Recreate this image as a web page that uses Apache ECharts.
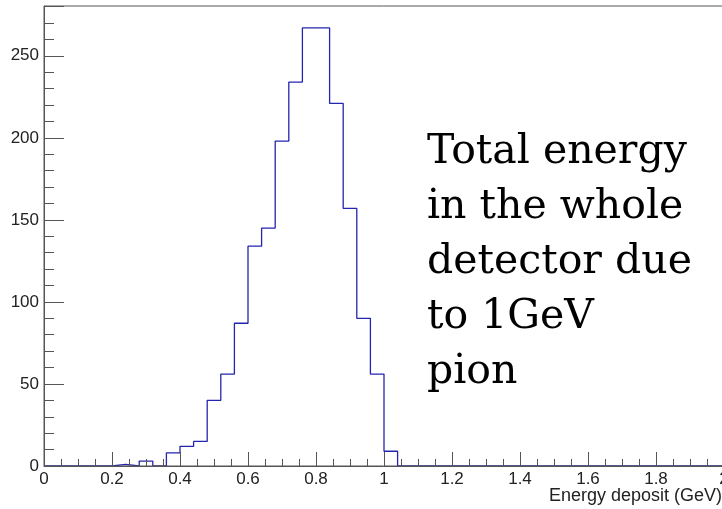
<!DOCTYPE html>
<html>
<head>
<meta charset="utf-8">
<script src="https://cdn.jsdelivr.net/npm/echarts@6/dist/echarts.min.js"></script>
<style>html,body{margin:0;padding:0;background:#fff;}#c{width:722px;height:509px;}</style>
</head>
<body>
<div id="c"></div>
<script>
// Histogram definition: 50 bins of width 0.04 from 0 to 2 GeV
const binStart = 0;
const binWidth = 0.04;
const counts = [
  0, 0, 0, 0, 0,          // 0.00 - 0.20
  1, 0, 3, 0, 8,          // 0.20 - 0.40
  12, 15, 40, 56, 87,     // 0.40 - 0.60
  134, 145, 198, 234, 267,// 0.60 - 0.80
  267, 221, 157, 90, 56,  // 0.80 - 1.00
  9, 0, 0, 0, 0,          // 1.00 - 1.20
  0, 0, 0, 0, 0,
  0, 0, 0, 0, 0,
  0, 0, 0, 0, 0,
  0, 0, 0, 0, 0
];
const xTicks = [0, 0.2, 0.4, 0.6, 0.8, 1, 1.2, 1.4, 1.6, 1.8, 2];
const yTicks = [0, 50, 100, 150, 200, 250];
const xTitle = 'Energy deposit (GeV)';
const noteLines = ['Total energy', 'in the whole', 'detector due', 'to 1GeV', 'pion'];

const pts = counts.map((v, i) => [+(binStart + i * binWidth).toFixed(4), v]);
pts.push([+(binStart + counts.length * binWidth).toFixed(4), counts[counts.length - 1]]);
const yMax = Math.max(...counts) * 1.05;

const chart = echarts.init(document.getElementById('c'), null, {renderer: 'canvas'});
const axisCol = '#555';
chart.setOption({
  animation: false,
  grid: {left: 44, top: 6, width: 680, height: 460, show: true, borderColor: axisCol, borderWidth: 1,
    containLabel: false, outerBoundsMode: 'none'},
  xAxis: {
    type: 'value', min: xTicks[0], max: xTicks[xTicks.length - 1], interval: 0.2,
    axisLine: {lineStyle: {color: axisCol, width: 1}},
    axisTick: {inside: true, length: 14, lineStyle: {color: axisCol}},
    minorTick: {show: true, splitNumber: 4, length: 7, lineStyle: {color: axisCol}},
    splitLine: {show: false},
    axisLabel: {color: '#222', fontSize: 17, fontFamily: 'Liberation Sans, Arial, sans-serif', margin: 5,
      hideOverlap: false,
      formatter: v => xTicks.some(t => Math.abs(t - v) < 1e-6) ? String(+v.toFixed(1)) : ''}
  },
  yAxis: {
    type: 'value', min: 0, max: yMax, interval: 50,
    axisLine: {show: true, lineStyle: {color: axisCol, width: 1}},
    axisTick: {show: true, inside: true, length: 20, lineStyle: {color: axisCol}},
    minorTick: {show: true, splitNumber: 5, length: 10, lineStyle: {color: axisCol}},
    splitLine: {show: false},
    axisLabel: {color: '#222', fontSize: 17, fontFamily: 'Liberation Sans, Arial, sans-serif', margin: 5, showMaxLabel: false,
      formatter: v => yTicks.includes(Math.round(v)) && Math.abs(v - Math.round(v)) < 1e-6 ? String(Math.round(v)) : ''}
  },
  series: [{
    type: 'line', step: 'end', data: pts, showSymbol: false, z: -1,
    lineStyle: {color: '#2424b0', width: 1.3}
  }],
  graphic: [
    {type: 'text', right: 0, top: 487, style: {text: xTitle, fill: '#222', font: '18px "Liberation Sans", Arial, sans-serif', textAlign: 'right'}},
    {type: 'text', left: 427, top: 125, style: {text: noteLines.join('\n'), fill: '#000', font: '41px "DejaVu Serif", serif', lineHeight: 55}}
  ]
});
</script>
</body>
</html>
